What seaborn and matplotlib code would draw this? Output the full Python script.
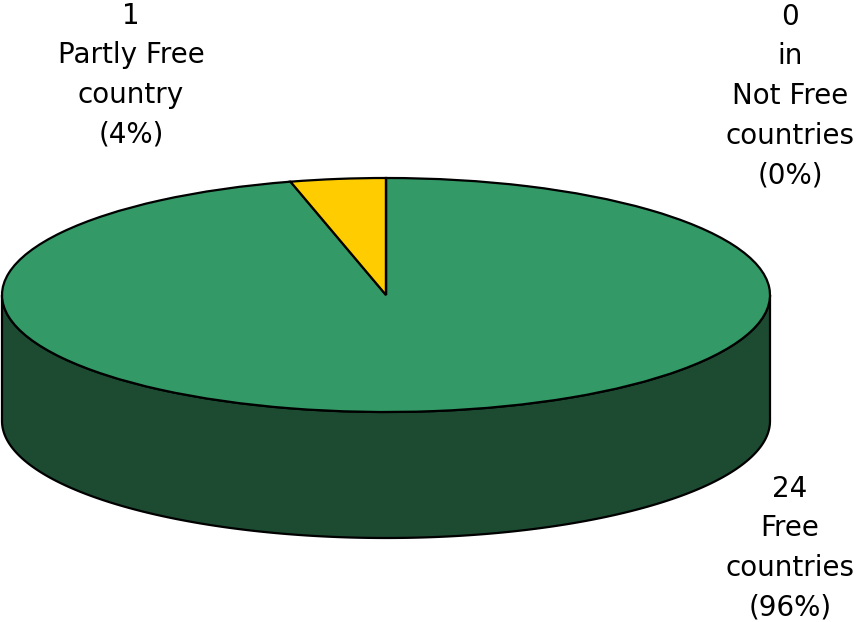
import matplotlib
matplotlib.use("Agg")
import matplotlib.pyplot as plt
from matplotlib.patches import Polygon
from matplotlib.transforms import Affine2D
import numpy as np
import seaborn as sns

# Data
categories = ["Free", "Partly Free", "Not Free"]
counts = [24, 1, 0]
nouns = ["countries", "country", "countries"]
prefixes = ["", "", "in\n"]

TOP_COLORS = ["#339966", "#ffcc00", "#993366"]
SIDE_COLORS = ["#1c4b32", "#806600", "#4d1a33"]

sns.set_style("white")
plt.rcParams["font.family"] = ["DejaVu Sans"]

W, H = 856, 622
fig = plt.figure(figsize=(W / 100, H / 100), dpi=100)
ax = fig.add_axes([0, 0, 1, 1])

# ellipse geometry in pixel units (y measured from the bottom)
cx, cy = 386, 622 - 295
a, b = 384, 117
depth = 126

ell = Affine2D().scale(a, b).translate(cx, cy) + ax.transData

wedges, _ = ax.pie(counts, colors=TOP_COLORS, startangle=90, counterclock=False,
                   frame=True, wedgeprops=dict(edgecolor="black", linewidth=1.6))
for w in wedges:
    w.set_transform(ell)
    w.set_zorder(3)

# front side walls of the cylinder, one per slice
total = sum(counts)
start = 90.0
for val, side in zip(counts, SIDE_COLORS):
    sweep = 360.0 * val / total
    t1, t0 = start, start - sweep   # clockwise
    start = t0
    if sweep == 0:
        continue
    for shift in (-360, 0, 360):
        lo, hi = max(t0 + shift, 180), min(t1 + shift, 360)
        if hi <= lo:
            continue
        th = np.radians(np.linspace(lo, hi, 200))
        xs = cx + a * np.cos(th)
        ys = cy + b * np.sin(th)
        pts = np.column_stack([np.r_[xs, xs[::-1]], np.r_[ys, ys[::-1] - depth]])
        ax.add_patch(Polygon(pts, closed=True, facecolor=side, edgecolor="black",
                             linewidth=1.6, zorder=2))

ax.set_xlim(0, W)
ax.set_ylim(0, H)
ax.set_aspect("auto")
ax.axis("off")

# labels
label_pos = {"Free": (790, 622 - 548), "Partly Free": (131, 622 - 75),
             "Not Free": (790, 622 - 96)}
for cat, n, noun, pre in zip(categories, counts, nouns, prefixes):
    pct = 100 * n / total
    txt = f"{n}\n{pre}{cat}\n{noun}\n({pct:.0f}%)"
    x, y = label_pos[cat]
    ax.text(x, y, txt, ha="center", va="center", fontsize=20,
            linespacing=1.53, color="black")

fig.savefig("out.png", dpi=100)
